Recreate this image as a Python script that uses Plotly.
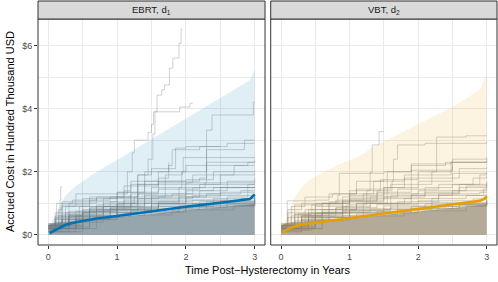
import plotly.graph_objects as go

# ---------------- data ----------------
PANELS = ["EBRT, d<sub>1</sub>", "VBT, d<sub>2</sub>"]

X_TICKS = [0, 1, 2, 3]
Y_TICKS = [0, 2, 4, 6]
Y_TICK_LABELS = ["$0", "$2", "$4", "$6"]

# confidence band upper bound (lower bound 0)
EBRT_BAND_T = [0, 0.1, 0.2, 0.25, 0.4, 0.6, 0.8, 1.0, 1.5, 2.0, 2.5, 2.93, 3.0]
EBRT_BAND_V = [0.25, 0.6, 1.05, 1.25, 1.55, 1.85, 2.12, 2.37, 3.03, 3.68, 4.33, 4.9, 5.25]
VBT_BAND_T = [0, 0.1, 0.2, 0.3, 0.4, 0.6, 0.86, 1.1, 1.4, 2.0, 2.5, 2.9, 3.0]
VBT_BAND_V = [0.2, 0.6, 1.2, 1.5, 1.72, 1.98, 2.25, 2.45, 2.85, 3.5, 4.05, 4.6, 5.1]

# mean accrued cost
EBRT_MEAN_T = [0.02, 0.08, 0.15, 0.25, 0.4, 0.7, 1.0, 1.5, 2.0, 2.5, 2.93, 3.0]
EBRT_MEAN_V = [0.06, 0.13, 0.22, 0.32, 0.4, 0.52, 0.6, 0.75, 0.89, 1.02, 1.14, 1.28]
VBT_MEAN_T = [0.01, 0.08, 0.13, 0.28, 0.52, 1.0, 1.5, 2.0, 2.5, 2.9, 2.97, 3.0]
VBT_MEAN_V = [0.06, 0.14, 0.22, 0.32, 0.39, 0.53, 0.67, 0.82, 0.95, 1.08, 1.15, 1.23]

# upper edge of the dense bundle of individual trajectories
EBRT_MASS_T = [0, 0.05, 0.15, 0.3, 0.6, 1.0, 1.5, 2.0, 2.5, 3.0]
EBRT_MASS_V = [0.3, 0.35, 0.4, 0.43, 0.48, 0.55, 0.66, 0.78, 0.88, 0.98]
VBT_MASS_T = [0, 0.05, 0.15, 0.3, 0.6, 1.0, 1.5, 2.0, 2.5, 3.0]
VBT_MASS_V = [0.3, 0.35, 0.4, 0.43, 0.47, 0.52, 0.62, 0.74, 0.85, 0.96]

# individual patient trajectories (time, accrued cost), step functions
EBRT_PATHS = [
    [(0, 0.15), (0.1, 0.4), (0.3, 0.6), (0.7, 0.9), (1.0, 1.3), (1.15, 2.0), (1.22, 2.6), (1.25, 3.0), (1.45, 3.25), (1.5, 3.5), (1.53, 3.9), (1.58, 4.43), (1.65, 4.6), (1.69, 4.75), (1.76, 5.28), (1.81, 5.6), (1.9, 6.07), (1.93, 6.52), (1.95, 6.52)],
    [(0, 0.2), (0.2, 0.5), (0.6, 0.8), (1.1, 1.2), (1.3, 1.9), (1.45, 2.4), (1.52, 3.2), (1.55, 3.9), (1.91, 4.05), (2.06, 4.17), (2.1, 4.17)],
    [(0, 0.1), (0.3, 0.4), (0.8, 0.7), (1.4, 1.0), (1.9, 1.3), (2.1, 1.5), (2.28, 1.65), (2.3, 3.32), (2.38, 3.8), (2.98, 4.2), (3.0, 4.2)],
    [(0, 0.2), (0.4, 0.6), (1.0, 1.0), (1.5, 1.5), (1.94, 2.0), (1.96, 2.45), (3.0, 2.45)],
    [(0, 0.3), (0.5, 0.7), (1.2, 1.3), (1.6, 2.0), (1.75, 2.2), (1.8, 2.7), (2.2, 2.8), (2.6, 2.9), (3.0, 2.9)],
    [(0, 0.2), (0.17, 1.1), (0.18, 1.52), (0.2, 1.52)],
    [(0, 0.3), (0.15, 0.8), (0.2, 1.05), (0.9, 1.05), (1.0, 1.35), (1.6, 1.45), (2.2, 1.6), (3.0, 1.6)],
    [(0, 0.25), (0.3, 0.7), (0.6, 1.2), (1.1, 1.4), (1.2, 1.7), (2.0, 1.75), (2.4, 2.0), (3.0, 2.05)],
    [(0, 0.1), (0.5, 0.5), (0.9, 0.9), (1.3, 1.2), (1.7, 1.6), (2.5, 1.9), (2.7, 2.2), (3.0, 2.2)],
    [(0, 0.3), (0.25, 0.9), (0.4, 1.3), (1.0, 1.35), (1.4, 2.0), (1.9, 2.0), (2.0, 2.2), (2.9, 2.3), (3.0, 2.3)],
    [(0, 0.2), (0.3, 0.6), (0.5, 0.9), (1.2, 1.0), (1.4, 1.25), (2.0, 1.3), (2.5, 1.5), (3.0, 1.55)],
    [(0, 0.15), (0.2, 0.5), (0.6, 0.85), (0.8, 1.15), (1.6, 1.2), (2.2, 1.4), (2.6, 1.7), (3.0, 1.8)],
    [(0, 0.2), (0.1, 0.7), (0.3, 1.0), (0.7, 1.2), (1.3, 1.3), (1.9, 1.5), (3.0, 1.5)],
    [(0, 0.1), (0.4, 0.5), (1.0, 0.8), (1.5, 1.1), (2.0, 1.2), (2.3, 1.3), (2.8, 1.4), (3.0, 1.4)],
    [(0, 0.2), (0.5, 0.7), (0.7, 0.95), (1.1, 1.1), (1.5, 1.2), (1.8, 1.3), (2.0, 1.65), (3.0, 1.7)],
    [(0, 0.3), (0.2, 0.6), (0.5, 0.8), (1.0, 1.0), (1.3, 1.15), (2.1, 1.25), (3.0, 1.3)],
    [(0, 0.25), (0.3, 0.65), (0.8, 0.9), (1.6, 1.0), (2.4, 1.15), (3.0, 1.2)],
    [(0, 0.3), (0.1, 0.6), (0.2, 0.95), (0.6, 1.1), (0.9, 1.2), (1.2, 1.25)],
    [(0, 0.2), (0.6, 0.75), (1.0, 0.95), (1.4, 1.7), (1.7, 1.9), (1.95, 2.0), (2.3, 2.7), (2.8, 2.7), (2.85, 3.0), (3.0, 3.0)],
    [(0, 0.3), (0.3, 0.75), (0.8, 1.0), (1.25, 1.2), (1.3, 1.9), (1.5, 2.1), (1.85, 2.75), (2.0, 2.8), (2.5, 2.8)],
    [(0, 0.2), (0.4, 0.6), (0.9, 0.85), (1.6, 1.05), (2.1, 1.1), (2.6, 1.2), (2.9, 1.35), (3.0, 1.35)],
    [(0, 0.1), (0.1, 0.5), (0.5, 0.75), (0.9, 0.85), (1.2, 1.6), (1.7, 1.7), (2.2, 1.8), (2.3, 2.3), (3.0, 2.35)],
    [(0, 0.25), (0.2, 0.9), (0.5, 1.15), (1.0, 1.2), (1.1, 1.55), (1.6, 1.65), (2.1, 1.9), (3.0, 1.95)],
    [(0, 0.3), (0.45, 0.9), (0.9, 1.05), (1.3, 1.6), (1.6, 1.8), (1.75, 2.3)],
    [(0, 0.2), (0.7, 0.8), (1.3, 1.05), (1.9, 1.2), (2.5, 1.35), (2.9, 1.6), (3.0, 1.65)],
    [(0, 0.3), (0.12, 1.0), (0.35, 1.1), (0.7, 1.15)],
    [(0, 0.25), (0.6, 0.85), (1.5, 1.0), (2.0, 1.4), (2.4, 1.5), (3.0, 1.52)],
    [(0, 0.3), (0.3, 0.55), (1.0, 0.7), (1.5, 0.82), (2.2, 0.97), (3.0, 1.08)],
    [(0, 0.25), (0.2, 0.45), (0.7, 0.6), (1.2, 0.72), (2.0, 0.87), (2.6, 0.95), (3.0, 1.0)],
    [(0, 0.35), (0.1, 0.55), (0.5, 0.7), (1.0, 0.8), (1.6, 0.9), (2.4, 1.0), (3.0, 1.1)],
    [(0, 0.2), (0.4, 0.5), (0.9, 0.63), (1.4, 0.76), (1.9, 0.86), (2.5, 0.98), (3.0, 1.02)],
    [(0, 0.3), (0.15, 0.6), (0.6, 0.75), (1.3, 0.85), (2.1, 1.0), (3.0, 1.15)],
    [(0, 0.25), (0.5, 0.55), (1.1, 0.68), (1.7, 0.82), (2.3, 0.92), (3.0, 0.99)],
    [(0, 0.35), (0.2, 0.65), (0.9, 0.8), (1.5, 0.95), (2.2, 1.05), (3.0, 1.2)],
    [(0, 0.2), (0.3, 0.48), (1.0, 0.63), (1.8, 0.79), (2.7, 0.93), (3.0, 0.96)],
    [(0, 0.3), (0.25, 0.7), (0.8, 0.9), (1.4, 1.0), (2.0, 1.1), (2.8, 1.15), (3.0, 1.2)],
    [(0, 0.25), (0.1, 0.5), (0.6, 0.6), (1.2, 0.76), (2.0, 0.91), (3.0, 1.05)],
    [(0, 0.35), (0.4, 0.75), (1.0, 0.88), (1.6, 0.98), (2.5, 1.08), (3.0, 1.12)],
    [(0, 0.3), (0.3, 0.6), (1.0, 0.72), (1.9, 0.92), (2.6, 1.02), (3.0, 1.08)],
    [(0, 0.3), (0.2, 0.58), (0.8, 0.78), (1.6, 0.9), (2.3, 1.05), (3.0, 1.25)],
]

VBT_PATHS = [
    [(0, 0.2), (0.3, 0.6), (0.7, 1.0), (1.0, 1.4), (1.3, 1.98), (1.33, 2.85), (1.43, 3.27), (1.5, 3.27)],
    [(0, 0.3), (0.4, 0.7), (0.9, 1.1), (1.5, 1.5), (1.8, 1.9), (2.0, 2.0), (2.27, 3.1), (2.7, 3.14), (3.0, 3.14)],
    [(0, 0.2), (0.5, 0.7), (1.0, 1.1), (1.4, 1.4), (1.62, 1.7), (1.64, 2.4), (1.7, 2.85), (2.1, 2.9), (3.0, 2.95)],
    [(0, 0.25), (0.4, 0.8), (0.9, 1.2), (1.4, 1.35), (1.9, 2.25), (2.48, 2.3), (3.0, 2.4)],
    [(0, 0.2), (0.3, 0.6), (0.6, 1.0), (0.83, 1.25), (0.85, 1.95), (1.5, 2.0), (1.9, 2.2), (2.4, 2.3), (3.0, 2.35)],
    [(0, 0.3), (0.09, 1.08), (0.5, 1.1), (0.7, 1.3), (1.1, 1.45), (1.6, 1.6), (2.2, 1.8), (2.6, 2.1), (3.0, 2.15)],
    [(0, 0.2), (0.2, 0.7), (0.5, 1.0), (1.0, 1.25), (1.5, 1.5), (2.0, 1.7), (2.5, 1.95), (3.0, 2.0)],
    [(0, 0.15), (0.4, 0.6), (0.9, 0.9), (1.3, 1.2), (1.7, 1.45), (2.3, 1.6), (2.8, 1.8), (3.0, 1.85)],
    [(0, 0.3), (0.1, 0.8), (0.3, 1.0), (0.8, 1.1), (1.2, 1.3), (2.0, 1.4), (2.7, 1.55), (3.0, 1.6)],
    [(0, 0.2), (0.6, 0.8), (1.1, 1.0), (1.6, 1.25), (2.1, 1.35), (2.6, 1.5), (3.0, 1.7)],
    [(0, 0.25), (0.2, 0.65), (0.45, 0.95), (0.9, 1.05), (1.4, 1.15), (1.9, 1.25), (2.5, 1.4), (3.0, 1.45)],
    [(0, 0.1), (0.3, 0.5), (0.7, 0.8), (1.1, 1.0), (1.55, 2.0), (1.9, 2.05), (2.5, 2.4), (3.0, 2.45)],
    [(0, 0.2), (0.5, 0.7), (0.95, 0.95), (1.25, 1.4), (1.45, 1.75), (2.0, 1.9), (2.48, 2.3), (3.0, 2.3)],
    [(0, 0.3), (0.15, 0.9), (0.35, 1.2), (0.75, 1.3), (1.1, 1.7), (1.5, 1.75)],
    [(0, 0.2), (0.25, 0.6), (0.8, 0.85), (1.3, 1.0), (1.8, 1.15), (2.3, 1.3), (2.9, 1.35), (3.0, 1.35)],
    [(0, 0.15), (0.45, 0.55), (1.0, 0.8), (1.6, 1.0), (2.2, 1.15), (2.7, 1.25), (3.0, 1.3)],
    [(0, 0.25), (0.1, 0.7), (0.2, 0.95), (0.6, 1.0), (1.0, 1.15), (1.4, 1.2)],
    [(0, 0.1), (0.3, 0.45), (0.9, 0.75), (1.7, 1.05), (2.3, 1.25), (2.95, 1.45), (3.0, 1.55)],
    [(0, 0.2), (0.6, 0.7), (1.2, 1.0), (1.9, 1.3), (2.6, 1.6), (2.9, 1.9), (3.0, 1.95)],
    [(0, 0.3), (0.35, 0.8), (0.7, 1.05), (1.5, 1.2), (2.1, 1.5), (2.5, 1.6), (3.0, 1.65)],
    [(0, 0.25), (0.5, 0.9), (1.0, 1.3), (1.35, 1.7), (1.8, 1.8), (2.2, 2.0), (2.5, 2.2)],
    [(0, 0.3), (0.3, 0.55), (1.0, 0.7), (1.5, 0.8), (2.2, 0.95), (3.0, 1.05)],
    [(0, 0.25), (0.2, 0.45), (0.7, 0.58), (1.2, 0.7), (2.0, 0.84), (2.6, 0.94), (3.0, 1.0)],
    [(0, 0.35), (0.1, 0.55), (0.5, 0.68), (1.0, 0.78), (1.6, 0.88), (2.4, 0.98), (3.0, 1.1)],
    [(0, 0.2), (0.4, 0.5), (0.9, 0.62), (1.4, 0.74), (1.9, 0.84), (2.5, 0.96), (3.0, 1.02)],
    [(0, 0.3), (0.15, 0.6), (0.6, 0.72), (1.3, 0.83), (2.1, 0.98), (3.0, 1.12)],
    [(0, 0.25), (0.5, 0.55), (1.1, 0.66), (1.7, 0.8), (2.3, 0.9), (3.0, 0.98)],
    [(0, 0.35), (0.2, 0.65), (0.9, 0.78), (1.5, 0.92), (2.2, 1.02), (3.0, 1.16)],
    [(0, 0.2), (0.3, 0.48), (1.0, 0.6), (1.8, 0.76), (2.7, 0.92), (3.0, 0.96)],
    [(0, 0.3), (0.25, 0.68), (0.8, 0.86), (1.4, 0.97), (2.0, 1.08), (2.8, 1.14), (3.0, 1.2)],
    [(0, 0.3), (0.3, 0.6), (1.0, 0.7), (1.9, 0.9), (2.6, 1.0), (3.0, 1.06)],
]

BAND_COLORS = ["rgba(0,114,178,0.12)", "rgba(230,159,0,0.12)"]
MEAN_COLORS = ["#0072B2", "#E69F00"]

# ---------------- figure ----------------
fig = go.Figure()


def flatten(paths):
    xs, ys = [], []
    for p in paths:
        for t, v in p:
            xs.append(t)
            ys.append(v)
        xs.append(None)
        ys.append(None)
    return xs, ys


panel_data = [
    (EBRT_PATHS, EBRT_MASS_T, EBRT_MASS_V, EBRT_BAND_T, EBRT_BAND_V, EBRT_MEAN_T, EBRT_MEAN_V),
    (VBT_PATHS, VBT_MASS_T, VBT_MASS_V, VBT_BAND_T, VBT_BAND_V, VBT_MEAN_T, VBT_MEAN_V),
]

for i, (paths, mt, mv, bt, bv, et, ev) in enumerate(panel_data):
    xa = "x" if i == 0 else "x2"
    ya = "y" if i == 0 else "y2"
    # dense bundle
    fig.add_trace(go.Scatter(x=mt, y=mv, mode="lines", line=dict(width=0),
                             fill="tozeroy", fillcolor="rgb(172,172,172)",
                             xaxis=xa, yaxis=ya, hoverinfo="skip", showlegend=False))
    # trajectories
    px, py = flatten(paths)
    fig.add_trace(go.Scatter(x=px, y=py, mode="lines",
                             line=dict(color="rgba(125,125,125,0.45)", width=0.8, shape="hv"),
                             xaxis=xa, yaxis=ya, hoverinfo="skip", showlegend=False))
    # confidence band
    fig.add_trace(go.Scatter(x=bt, y=bv, mode="lines", line=dict(width=0),
                             fill="tozeroy", fillcolor=BAND_COLORS[i],
                             xaxis=xa, yaxis=ya, hoverinfo="skip", showlegend=False))
    # mean
    fig.add_trace(go.Scatter(x=et, y=ev, mode="lines",
                             line=dict(color=MEAN_COLORS[i], width=2.6),
                             xaxis=xa, yaxis=ya, hoverinfo="skip", showlegend=False))

FONT = "Liberation Sans, Arial, sans-serif"
grid = "#EBEBEB"

xcommon = dict(range=[-0.15, 3.15], tickvals=X_TICKS, showgrid=True, gridcolor=grid, gridwidth=1,
               minor=dict(dtick=0.5, tick0=0, showgrid=True, gridcolor=grid, gridwidth=0.5, ticks=""),
               zeroline=False, ticks="outside", ticklen=3, tickwidth=1, tickcolor="#333333",
               tickfont=dict(family=FONT, size=9, color="#4D4D4D"), showline=False)
ycommon = dict(range=[-0.32, 6.84], tickvals=Y_TICKS, ticktext=Y_TICK_LABELS, showgrid=True,
               gridcolor=grid, gridwidth=1,
               minor=dict(dtick=1, tick0=0, showgrid=True, gridcolor=grid, gridwidth=0.5, ticks=""),
               zeroline=False, tickfont=dict(family=FONT, size=9, color="#4D4D4D"), showline=False)

fig.update_layout(
    width=498, height=282,
    margin=dict(l=38, r=1, t=19, b=37, autoexpand=False),
    paper_bgcolor="white", plot_bgcolor="white",
    xaxis=dict(domain=[0, 0.4946], anchor="y", **xcommon),
    xaxis2=dict(domain=[0.507, 1.0], anchor="y2", **xcommon),
    yaxis=dict(domain=[0, 1], anchor="x", ticks="outside", ticklen=3, tickwidth=1, tickcolor="#333333",
               showticklabels=True, **ycommon),
    yaxis2=dict(domain=[0, 1], anchor="x2", matches="y", ticks="", showticklabels=False, **ycommon),
    font=dict(family=FONT),
)

strip_h = 18 / 226
for i, name in enumerate(PANELS):
    xr = "x domain" if i == 0 else "x2 domain"
    yr = "y domain" if i == 0 else "y2 domain"
    # panel border
    fig.add_shape(type="rect", xref=xr, yref=yr, x0=0, x1=1, y0=0, y1=1,
                  line=dict(color="#333333", width=1), fillcolor="rgba(0,0,0,0)", layer="above")
    # strip
    fig.add_shape(type="rect", xref=xr, yref=yr, x0=0, x1=1, y0=1, y1=1 + strip_h,
                  line=dict(color="#333333", width=1), fillcolor="#D9D9D9", layer="above")
    fig.add_annotation(text=name, xref=xr, yref=yr, x=0.5, y=1 + strip_h / 2,
                       showarrow=False, xanchor="center", yanchor="middle",
                       font=dict(family=FONT, size=9.5, color="#1A1A1A"))

fig.add_annotation(text="Time Post\u2212Hysterectomy in Years", xref="paper", yref="paper",
                   x=0.5, y=-(270 - 245) / 226, showarrow=False, xanchor="center", yanchor="middle",
                   font=dict(family=FONT, size=11, color="black"))
fig.add_annotation(text="Accrued Cost in Hundred Thousand USD", xref="paper", yref="paper",
                   x=(10 - 38) / 459, y=0.5, showarrow=False, textangle=-90,
                   xanchor="center", yanchor="middle",
                   font=dict(family=FONT, size=11, color="black"))

fig.write_html("out.html", config={"displayModeBar": False},
               post_script="document.body.style.margin='0';")
